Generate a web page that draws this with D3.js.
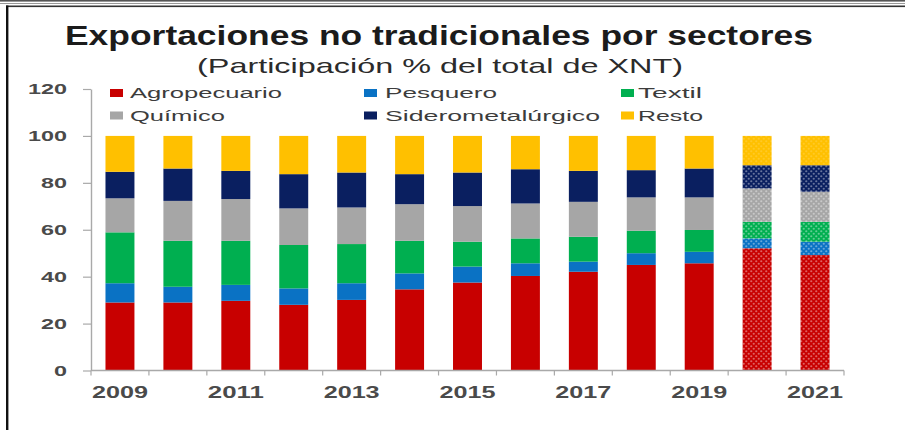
<!DOCTYPE html>
<html>
<head>
<meta charset="utf-8">
<script src="https://cdn.jsdelivr.net/npm/d3@7"></script>
<style>
  html, body { margin: 0; padding: 0; background: #fff; }
  svg { display: block; font-family: Arial, "Liberation Sans", sans-serif; }
</style>
</head>
<body>
<svg id="chart" width="905" height="430"></svg>
<script>
// Non-traditional exports by sector, share (%) of total XNT
const years = [2009, 2010, 2011, 2012, 2013, 2014, 2015, 2016, 2017, 2018, 2019, 2020, 2021];
const sectors = ["Agropecuario", "Pesquero", "Textil", "Químico", "Siderometalúrgico", "Resto"];
const agropecuario     = [29.0, 29.0, 29.7, 28.0, 30.1, 34.6, 37.5, 40.3, 42.1, 45.0, 45.7, 52.1, 49.2];
const pesquero         = [ 8.2,  6.7,  6.8,  7.0,  7.1,  6.8,  6.8,  5.4,  4.3,  5.0,  4.9,  4.2,  5.7];
const textil           = [21.7, 19.6, 18.8, 18.5, 16.7, 13.9, 10.6, 10.6, 10.6,  9.6,  9.3,  7.1,  8.5];
const quimico          = [14.5, 17.0, 17.8, 15.6, 15.6, 15.6, 15.2, 14.9, 14.9, 14.2, 13.9, 14.2, 12.8];
const siderometalurgico= [11.3, 13.8, 12.0, 14.6, 14.9, 12.8, 14.3, 14.6, 13.2, 11.6, 12.3,  9.9, 11.3];
const resto            = [15.3, 13.9, 14.9, 16.3, 15.6, 16.3, 15.6, 14.2, 14.9, 14.6, 13.9, 12.5, 12.5];
// Years shown with a dotted fill (estimates)
const estimatedYears = [2020, 2021];
const yTicks = [0, 20, 40, 60, 80, 100, 120];
const xLabelYears = [2009, 2011, 2013, 2015, 2017, 2019, 2021];

const colors = ["#C80000", "#0A72C4", "#00AF50", "#A6A6A6", "#0A1F60", "#FFC000"];
const seriesValues = [agropecuario, pesquero, textil, quimico, siderometalurgico, resto];

const table = years.map((yr, i) => {
  const row = { year: yr };
  sectors.forEach((s, k) => { row[s] = seriesValues[k][i]; });
  return row;
});

const svg = d3.select("#chart");

// Frame lines
svg.append("rect").attr("x", 0).attr("y", 0).attr("width", 905).attr("height", 1.6).attr("fill", "#555");
svg.append("rect").attr("x", 0).attr("y", 3).attr("width", 905).attr("height", 1).attr("fill", "#999");
svg.append("rect").attr("x", 6).attr("y", 5.5).attr("width", 899).attr("height", 1.6).attr("fill", "#333");
svg.append("rect").attr("x", 6).attr("y", 5.5).attr("width", 2.4).attr("height", 425).attr("fill", "#111");

// Dotted patterns for the estimated years
const defs = svg.append("defs");
colors.forEach((c, k) => {
  const p = defs.append("pattern")
    .attr("id", "dots" + k)
    .attr("patternUnits", "userSpaceOnUse")
    .attr("width", 5).attr("height", 5);
  p.append("rect").attr("width", 5).attr("height", 5).attr("fill", c);
  const dotOpacity = k === 5 ? 0.15 : 0.38;
  [[1.25, 1.25], [3.75, 3.75]].forEach(([cx, cy]) => {
    p.append("circle").attr("cx", cx).attr("cy", cy).attr("r", 1.1)
      .attr("fill", "#fff").attr("fill-opacity", dotOpacity);
  });
});

// Text with a fixed rendered width (horizontally stretched type)
function stretchedText(parent, str, x, y, width, opts) {
  const t = parent.append("text")
    .attr("x", x).attr("y", y)
    .attr("textLength", width)
    .attr("lengthAdjust", "spacingAndGlyphs")
    .attr("font-size", opts.size)
    .attr("font-weight", opts.weight || "normal")
    .attr("fill", opts.color || "#333")
    .text(str);
  return t;
}

// Titles
stretchedText(svg, "Exportaciones no tradicionales por sectores", 65, 45, 748,
  { size: 27, weight: "bold", color: "#1b1b1b" });
stretchedText(svg, "(Participación % del total de XNT)", 197, 73, 486,
  { size: 21, color: "#2b2b2b" });

// Scales
const x = d3.scaleBand().domain(years).range([91, 844]).paddingInner(0.5).paddingOuter(0.25);
const y = d3.scaleLinear().domain([0, 120]).range([370.5, 89]);

// Stacked bars
const stack = d3.stack().keys(sectors);
const layers = stack(table);

const gBars = svg.append("g");
layers.forEach((layer, k) => {
  gBars.append("g")
    .selectAll("rect")
    .data(layer)
    .join("rect")
    .attr("x", d => x(d.data.year))
    .attr("width", x.bandwidth())
    .attr("y", d => y(d[1]))
    .attr("height", d => y(d[0]) - y(d[1]))
    .attr("fill", d => estimatedYears.includes(d.data.year) ? "url(#dots" + k + ")" : colors[k]);
});

// Y axis
const axisColor = "#a9a9a9";
const yAxis = svg.append("g")
  .attr("transform", "translate(91,0)")
  .call(d3.axisLeft(y).tickValues(yTicks).tickSize(8).tickSizeOuter(0).tickPadding(16));
yAxis.select(".domain").attr("stroke", axisColor).attr("stroke-width", 1.4);
yAxis.selectAll(".tick line").attr("stroke", axisColor).attr("stroke-width", 1.2);
yAxis.selectAll(".tick text")
  .attr("font-size", 15).attr("font-weight", "bold").attr("fill", "#4a4a4a")
  .attr("font-family", "Arial, 'Liberation Sans', sans-serif")
  .attr("textLength", d => 13 * String(d).length)
  .attr("lengthAdjust", "spacingAndGlyphs");

// X axis: baseline, ticks at category boundaries, labels on odd years
const gx = svg.append("g");
gx.append("line")
  .attr("x1", x.range()[0]).attr("x2", x.range()[1])
  .attr("y1", y(0)).attr("y2", y(0))
  .attr("stroke", axisColor).attr("stroke-width", 1.4);
const boundaries = years.map(yr => x(yr) - x.step() * x.paddingInner() / 2)
  .concat([x(years[years.length - 1]) + x.bandwidth() + x.step() * x.paddingInner() / 2]);
gx.selectAll("line.tick")
  .data(boundaries)
  .join("line")
  .attr("class", "tick")
  .attr("x1", d => d).attr("x2", d => d)
  .attr("y1", y(0)).attr("y2", y(0) + 5)
  .attr("stroke", axisColor).attr("stroke-width", 1.2);
xLabelYears.forEach(yr => {
  const cx = x(yr) + x.bandwidth() / 2;
  stretchedText(gx, String(yr), cx - 28, 398, 56,
    { size: 17, weight: "bold", color: "#4a4a4a" });
});

// Legend (two rows, three columns)
const legendCols = [[110, 130], [364, 385], [621, 638]];
const legendRows = [98, 120.5];
const legendWidths = [152, 112, 64, 95, 215, 65];
const gLeg = svg.append("g");
sectors.forEach((s, k) => {
  const col = legendCols[k % 3];
  const base = legendRows[Math.floor(k / 3)];
  gLeg.append("rect")
    .attr("x", col[0]).attr("y", base - 9)
    .attr("width", 13).attr("height", 8)
    .attr("fill", colors[k]);
  stretchedText(gLeg, s, col[1], base, legendWidths[k], { size: 15.5, color: "#3c3c3c" });
});
</script>
</body>
</html>
